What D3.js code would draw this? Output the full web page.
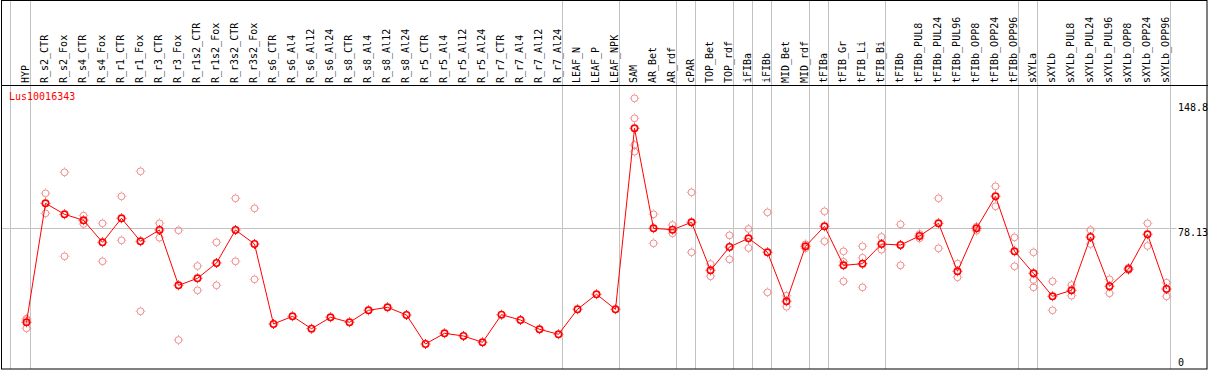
<!DOCTYPE html>
<html>
<head>
<meta charset="utf-8">
<script src="https://cdn.jsdelivr.net/npm/d3@7"></script>
<style>
  body { margin: 0; background: #fff; }
  svg { display: block; }
  text { font-family: "DejaVu Sans Mono", "Liberation Mono", monospace; font-size: 10px; }
</style>
</head>
<body>
<div id="chart"></div>
<script>
const probe = "Lus10016343";

const categories = [
  "HYP", "R_s2_CTR", "R_s2_Fox", "R_s4_CTR", "R_s4_Fox", "R_r1_CTR", "R_r1_Fox",
  "R_r3_CTR", "R_r3_Fox", "R_r1s2_CTR", "R_r1s2_Fox", "R_r3s2_CTR", "R_r3s2_Fox",
  "R_s6_CTR", "R_s6_Al4", "R_s6_Al12", "R_s6_Al24", "R_s8_CTR", "R_s8_Al4", "R_s8_Al12",
  "R_s8_Al24", "R_r5_CTR", "R_r5_Al4", "R_r5_Al12", "R_r5_Al24", "R_r7_CTR", "R_r7_Al4",
  "R_r7_Al12", "R_r7_Al24", "LEAF_N", "LEAF_P", "LEAF_NPK", "SAM", "AR_Bet", "AR_rdf",
  "cPAR", "TOP_Bet", "TOP_rdf", "iFIBa", "iFIBb", "MID_Bet", "MID_rdf", "tFIBa",
  "tFIB_Gr", "tFIB_Li", "tFIB_Bi", "tFIBb", "tFIBb_PUL8", "tFIBb_PUL24", "tFIBb_PUL96",
  "tFIBb_OPP8", "tFIBb_OPP24", "tFIBb_OPP96", "sXYLa", "sXYLb", "sXYLb_PUL8",
  "sXYLb_PUL24", "sXYLb_PUL96", "sXYLb_OPP8", "sXYLb_OPP24", "sXYLb_OPP96"
];

// mean expression per sample
const means = [
  23.36, 92.69, 86.29, 82.79, 69.97, 83.95, 70.55, 77.14, 44.92, 49.00, 57.91, 77.14, 68.98,
  22.37, 26.86, 19.63, 26.28, 23.36, 30.35, 32.10, 27.62, 10.72, 16.95, 15.38, 11.71,
  27.79, 24.70, 19.28, 16.37, 30.94, 39.68, 30.94, 136.39, 78.13, 77.31, 81.62, 53.66,
  67.23, 72.30, 64.15, 35.60, 67.64, 79.29, 56.57, 57.50, 68.98, 68.40, 73.64, 81.04,
  53.08, 78.13, 96.77, 64.73, 51.91, 38.51, 42.01, 73.06, 44.34, 54.42, 74.63, 42.76
];

// individual replicates per sample
const replicates = [
  [25.46, 24.70, 19.87], [98.52, 86.87], [110.76, 61.82], [85.47, 80.63], [81.04, 58.90],
  [96.77, 71.14], [111.34, 29.77], [81.04, 72.65], [76.96, 13.05], [56.16, 42.01],
  [69.97, 44.92], [95.61, 58.90], [89.78, 48.42],
  [], [], [], [], [], [], [], [], [], [], [], [], [], [], [], [], [], [], [],
  [153.87, 142.22, 126.66, 122.76], [86.29, 69.39], [80.05, 75.22], [99.10, 64.15],
  [57.33, 50.16], [74.05, 60.07], [77.72, 66.65], [87.45, 40.84], [38.86, 32.45],
  [68.81, 66.48], [88.03, 70.55], [64.73, 58.67, 47.25], [67.64, 61.00, 43.75],
  [73.06, 65.66], [80.46, 56.57], [74.81, 72.30], [95.61, 66.48], [57.50, 49.58],
  [79.06, 76.73], [102.60, 90.95], [72.88, 55.99], [64.15, 48.01, 43.75],
  [47.25, 30.35], [45.09, 38.86], [77.14, 68.98], [48.42, 40.26], [55.17, 53.83],
  [81.04, 67.82], [46.43, 38.51]
];

// a grey separator is drawn after each of these samples
const groupEnds = [
  "HYP", "R_r7_Al24", "LEAF_NPK", "AR_rdf", "cPAR", "TOP_rdf", "iFIBa", "iFIBb",
  "MID_rdf", "tFIBa", "tFIB_Bi", "tFIBb_OPP96", "sXYLa", "sXYLb_OPP96"
];

const yMax = 148.8;
const yMid = 78.13;
const yTicks = [yMax, yMid, 0];

const width = 1209, height = 370;
const headerBottom = 85;
const frameBottom = 369;

const svg = d3.select("#chart").append("svg")
  .attr("width", width)
  .attr("height", height);

const x = d3.scaleBand()
  .domain(categories)
  .range([11.5, 11.5 + 19 * categories.length])
  .paddingInner(0).paddingOuter(0);
const px = d => x(d) + 15;

const y = d3.scaleLinear()
  .domain([0, yMax])
  .range([362.4, 107]);

const grey = "#c3c3c3";

// mid reference line
svg.append("line")
  .attr("x1", 1).attr("x2", x.range()[1] + 6)
  .attr("y1", Math.round(y(yMid)) + 0.5).attr("y2", Math.round(y(yMid)) + 0.5)
  .attr("stroke", grey).attr("stroke-width", 1);

// group separators
const sepX = [x.range()[0] - 1].concat(groupEnds.map(c => x(c) + x.bandwidth()));
svg.selectAll("line.sep")
  .data(sepX)
  .join("line")
  .attr("class", "sep")
  .attr("x1", d => Math.floor(d) + 0.5).attr("x2", d => Math.floor(d) + 0.5)
  .attr("y1", 0).attr("y2", frameBottom)
  .attr("stroke", grey).attr("stroke-width", 1);

// frame
svg.append("rect")
  .attr("x", 1.5).attr("y", 0.5)
  .attr("width", 1207 - 1.5).attr("height", frameBottom - 0.5)
  .attr("fill", "none").attr("stroke", "#000").attr("stroke-width", 1);
svg.append("line")
  .attr("x1", 1).attr("x2", 1208)
  .attr("y1", headerBottom + 0.5).attr("y2", headerBottom + 0.5)
  .attr("stroke", "#000").attr("stroke-width", 1);

// sample labels (rotated)
svg.selectAll("text.cat")
  .data(categories)
  .join("text")
  .attr("class", "cat")
  .attr("transform", d => `translate(${px(d) + 2.5},${headerBottom - 2}) rotate(-90)`)
  .attr("fill", "#000")
  .text(d => d);

// probe name
svg.append("text")
  .attr("x", 9).attr("y", 100)
  .attr("fill", "#ff0000")
  .text(probe);

// y labels on the right
svg.selectAll("text.ytick")
  .data(yTicks)
  .join("text")
  .attr("class", "ytick")
  .attr("x", 1178)
  .attr("y", d => y(d) + (d === yMid ? 4.5 : 0))
  .attr("dominant-baseline", "central")
  .attr("fill", "#000")
  .text(d => d);

// marker: ring plus tiny nubs like the raster original
function marker(g, color, r, sw) {
  g.append("circle")
    .attr("r", r)
    .attr("fill", "none")
    .attr("stroke", color)
    .attr("stroke-width", sw);
  const a = r + sw / 2, b = a + 0.9;
  g.append("path")
    .attr("d", `M0,${-b}V${-a}M0,${a}V${b}M${-b},0H${-a}M${a},0H${b}`)
    .attr("stroke", color)
    .attr("stroke-width", 1);
}

// replicate points
const repData = [];
categories.forEach((c, i) => replicates[i].forEach(v => repData.push({ c, v })));
svg.selectAll("g.rep")
  .data(repData)
  .join("g")
  .attr("class", "rep")
  .attr("transform", d => `translate(${px(d.c)},${y(d.v)})`)
  .each(function () { marker(d3.select(this), "#f08c8c", 3.4, 1); });

// mean line
const line = d3.line()
  .x((d, i) => px(categories[i]))
  .y(d => y(d));
svg.append("path")
  .datum(means)
  .attr("d", line)
  .attr("fill", "none")
  .attr("stroke", "#ff0000")
  .attr("stroke-width", 1);

// mean points
svg.selectAll("g.mean")
  .data(means)
  .join("g")
  .attr("class", "mean")
  .attr("transform", (d, i) => `translate(${px(categories[i])},${y(d)})`)
  .each(function () { marker(d3.select(this), "#ff0000", 3.2, 1.6); });
</script>
</body>
</html>
